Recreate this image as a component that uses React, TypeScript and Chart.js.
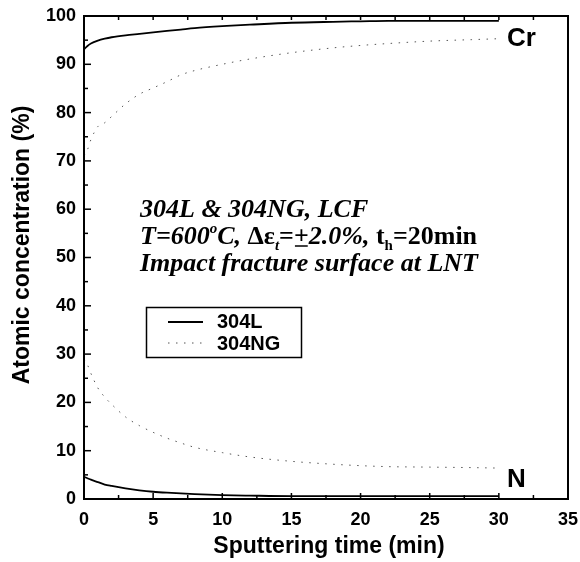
import React, { useEffect, useRef } from "react";
import { Chart, registerables } from "chart.js";

Chart.register(...registerables);

const times = [0, 0.25, 0.5, 1, 1.5, 2, 3, 4, 5, 6, 7, 8, 10, 12, 15, 18, 20, 22, 25, 28, 30];
const cr304L = [93.1, 93.8, 94.3, 94.9, 95.3, 95.6, 96.0, 96.3, 96.6, 96.9, 97.2, 97.5, 97.9, 98.2, 98.6, 98.8, 98.9, 99.0, 99.0, 99.0, 99.0];
const cr304NG = [71.0, 72.3, 74.4, 77.1, 77.9, 79.2, 81.8, 83.8, 85.1, 86.4, 87.8, 88.7, 90.0, 91.1, 92.4, 93.4, 93.9, 94.3, 94.8, 95.1, 95.3];
const n304L = [4.6, 4.3, 4.0, 3.5, 3.0, 2.7, 2.2, 1.8, 1.5, 1.3, 1.15, 1.0, 0.8, 0.7, 0.6, 0.6, 0.6, 0.6, 0.6, 0.6, 0.6];
const n304NG = [29.0, 27.8, 26.0, 23.0, 21.1, 19.6, 17.0, 15.2, 13.8, 12.6, 11.6, 10.7, 9.6, 8.7, 7.8, 7.2, 6.9, 6.7, 6.6, 6.5, 6.4];
const seriesLabels = ["304L", "304NG"];
const xTitle = "Sputtering time (min)";
const yTitle = "Atomic concentration (%)";
const elementLabels = ["Cr", "N"];

const SANS = "'Liberation Sans', Arial, sans-serif";
const SERIF = "'Liberation Serif', 'Times New Roman', serif";
const DOT_DASH = [1.5, 6.5];

const pts = (vals: number[]) => vals.map((v, i) => ({ x: times[i], y: v }));

const solid = { borderColor: "#000", borderWidth: 1.8, pointRadius: 0, fill: false, cubicInterpolationMode: "monotone" as const };
const dotted = { borderColor: "#555", borderWidth: 1, borderDash: DOT_DASH, pointRadius: 0, fill: false, cubicInterpolationMode: "monotone" as const };

const decor = {
  id: "decor",
  afterDraw(chart: any) {
    const { ctx, chartArea: a, scales } = chart;
    const x = scales.x;
    const y = scales.y;
    ctx.save();
    ctx.strokeStyle = "#000";
    ctx.fillStyle = "#000";
    // ticks
    ctx.lineWidth = 1.5;
    for (let v = 0; v <= 35.001; v += 2.5) {
      const px = x.getPixelForValue(v);
      const major = Math.abs(v % 5) < 0.01;
      ctx.beginPath();
      ctx.moveTo(px, a.bottom);
      ctx.lineTo(px, a.bottom - (major ? 6 : 4));
      ctx.moveTo(px, a.top);
      ctx.lineTo(px, a.top + 4);
      ctx.stroke();
    }
    for (let v = 0; v <= 100.001; v += 5) {
      const py = y.getPixelForValue(v);
      const major = Math.abs(v % 10) < 0.01;
      ctx.beginPath();
      ctx.moveTo(a.left, py);
      ctx.lineTo(a.left + (major ? 7 : 4), py);
      ctx.stroke();
    }
    // frame
    ctx.lineWidth = 2;
    ctx.strokeRect(a.left, a.top, a.right - a.left, a.bottom - a.top);

    // axis titles
    ctx.font = `bold 23px ${SANS}`;
    ctx.textAlign = "center";
    ctx.textBaseline = "alphabetic";
    ctx.fillText(xTitle, 329, 553);
    ctx.save();
    ctx.translate(29, 245);
    ctx.rotate(-Math.PI / 2);
    ctx.fillText(yTitle, 0, 0);
    ctx.restore();

    // element labels
    ctx.textAlign = "left";
    ctx.font = `bold 26px ${SANS}`;
    ctx.fillText(elementLabels[0], 507, 46);
    ctx.fillText(elementLabels[1], 507, 487);

    // legend
    ctx.lineWidth = 1.5;
    ctx.strokeRect(146.5, 307.5, 155, 50);
    ctx.beginPath();
    ctx.lineWidth = 1.8;
    ctx.moveTo(168, 322);
    ctx.lineTo(203, 322);
    ctx.stroke();
    ctx.beginPath();
    ctx.strokeStyle = "#555";
    ctx.lineWidth = 1;
    ctx.setLineDash(DOT_DASH);
    ctx.moveTo(168, 343);
    ctx.lineTo(205, 343);
    ctx.stroke();
    ctx.setLineDash([]);
    ctx.strokeStyle = "#000";
    ctx.font = `bold 20px ${SANS}`;
    ctx.textBaseline = "middle";
    ctx.fillText(seriesLabels[0], 217, 322);
    ctx.fillText(seriesLabels[1], 217, 344);

    // annotation
    ctx.textBaseline = "alphabetic";
    const big = 26;
    const small = 15;
    const lines: { t: string; f: string; dy?: number; u?: boolean }[][] = [
      [{ t: "304L & 304NG, LCF", f: `italic bold ${big}px ${SERIF}` }],
      [
        { t: "T=600", f: `italic bold ${big}px ${SERIF}` },
        { t: "o", f: `italic bold ${small}px ${SERIF}`, dy: -11 },
        { t: "C, ", f: `italic bold ${big}px ${SERIF}` },
        { t: "\u0394\u03b5", f: `bold ${big}px ${SERIF}` },
        { t: "t", f: `italic bold ${small}px ${SERIF}`, dy: 6 },
        { t: "=", f: `bold ${big}px ${SERIF}` },
        { t: "+", f: `bold ${big}px ${SERIF}`, u: true },
        { t: "2.0%, ", f: `italic bold ${big}px ${SERIF}` },
        { t: "t", f: `bold ${big}px ${SERIF}` },
        { t: "h", f: `bold ${small}px ${SERIF}`, dy: 6 },
        { t: "=20min", f: `bold ${big}px ${SERIF}` },
      ],
      [{ t: "Impact fracture surface at LNT", f: `italic bold ${big}px ${SERIF}` }],
    ];
    const baselines = [217, 244, 271];
    lines.forEach((segs, li) => {
      let cx = 140;
      segs.forEach((s) => {
        ctx.font = s.f;
        const w = ctx.measureText(s.t).width;
        ctx.fillText(s.t, cx, baselines[li] + (s.dy || 0));
        if (s.u) {
          ctx.lineWidth = 1.5;
          ctx.beginPath();
          ctx.moveTo(cx + 1, baselines[li] + 2);
          ctx.lineTo(cx + w - 1, baselines[li] + 2);
          ctx.stroke();
        }
        cx += w;
      });
    });
    ctx.restore();
  },
};

export default function App() {
  const ref = useRef<HTMLCanvasElement | null>(null);
  useEffect(() => {
    if (!ref.current) return;
    const chart = new Chart(ref.current, {
      type: "line",
      data: {
        datasets: [
          { label: seriesLabels[0], data: pts(cr304L), ...solid },
          { label: seriesLabels[1], data: pts(cr304NG), ...dotted },
          { label: seriesLabels[0] + " N", data: pts(n304L), ...solid },
          { label: seriesLabels[1] + " N", data: pts(n304NG), ...dotted },
        ],
      },
      options: {
        animation: false,
        responsive: false,
        layout: { padding: { top: 16, right: 12, left: 0, bottom: 0 } },
        plugins: { legend: { display: false }, tooltip: { enabled: false } },
        scales: {
          x: {
            type: "linear",
            min: 0,
            max: 35,
            grid: { display: false, drawTicks: false },
            border: { display: false },
            ticks: { stepSize: 5, padding: 10, color: "#000", font: { family: SANS, size: 18, weight: "bold" }, maxRotation: 0 },
            afterFit: (s: any) => { s.height = 63; s.paddingLeft = 0; s.paddingRight = 0; },
          },
          y: {
            type: "linear",
            min: 0,
            max: 100,
            grid: { display: false, drawTicks: false },
            border: { display: false },
            ticks: { stepSize: 10, padding: 8, color: "#000", font: { family: SANS, size: 18, weight: "bold" } },
            afterFit: (s: any) => { s.width = 84; s.paddingTop = 0; s.paddingBottom = 0; },
          },
        },
      },
      plugins: [decor],
    });
    return () => chart.destroy();
  }, []);
  return (
    <div style={{ position: "fixed", left: 0, top: 0, width: 580, height: 562, background: "#fff" }}>
      <canvas ref={ref} width={580} height={562} style={{ display: "block" }} />
    </div>
  );
}
